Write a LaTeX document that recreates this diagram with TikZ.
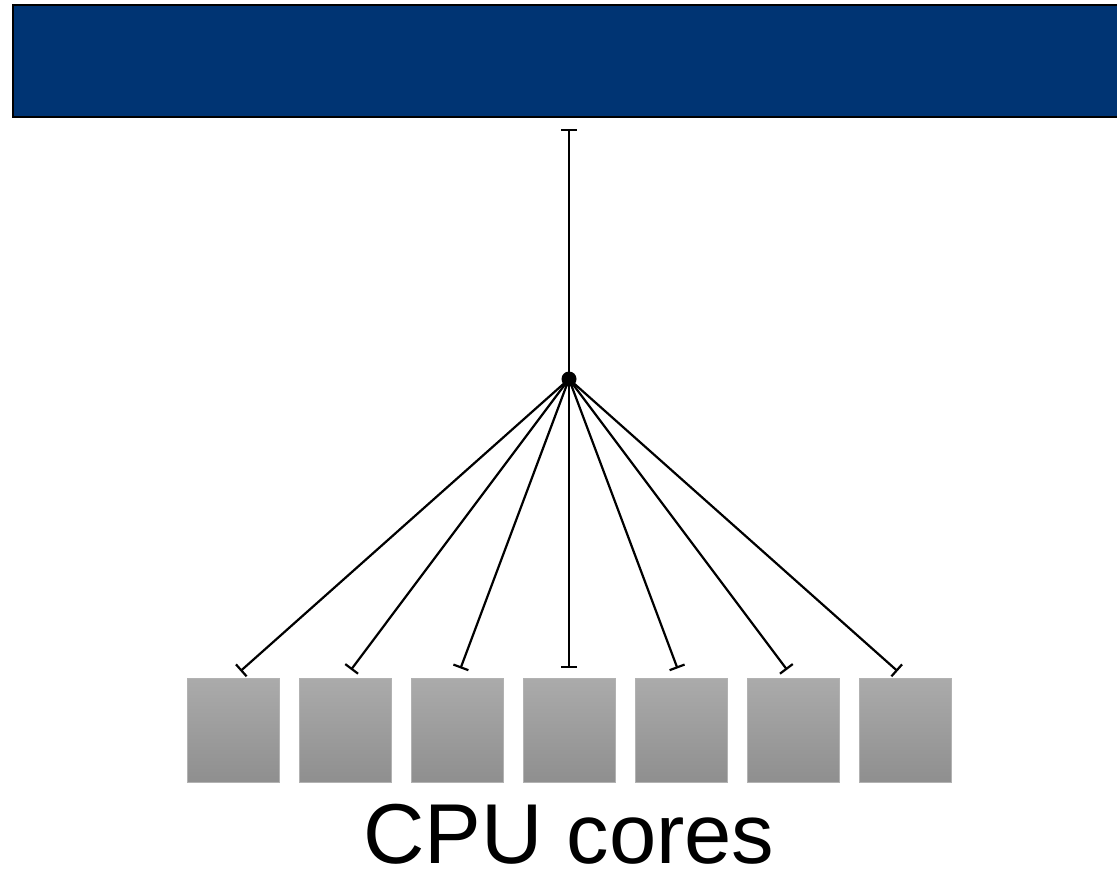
\documentclass[tikz,border=0pt]{standalone}
\usepackage{fontspec}
\setmainfont{Liberation Sans}
\usetikzlibrary{arrows.meta}
\definecolor{busblue}{RGB}{0,52,115}
\tikzset{
  corebox/.style={rectangle, minimum width=92pt, minimum height=104pt, inner sep=0pt,
    top color=black!33, bottom color=black!44, draw=black!30, line width=0.5pt},
  link/.style={line width=2.2pt, -{Bar[width=16pt,line width=2.2pt]}, shorten >=10pt},
}
\begin{document}
\begin{tikzpicture}[x=1pt,y=-1pt]
\useasboundingbox (0,0) rectangle (1117,879);
\node[rectangle, fill=busblue, draw=black, line width=2pt, anchor=north west,
  minimum width=1120pt, minimum height=112pt, inner sep=0pt] (bus) at (12,4) {};
\foreach \i in {1,...,7}{
  \node[corebox] (c\i) at ({233+112*(\i-1)},730) {};
}
\coordinate (hub) at (569,379);
\coordinate (top) at (569,129);
\draw[line width=2.2pt, -{Bar[width=16pt,line width=2.2pt]}] (hub) -- (top);
\foreach \i in {1,...,7}{
  \draw[link] (hub) -- (c\i.north);
}
\fill (hub) circle (7.5pt);
\node[font=\fontsize{85pt}{88pt}\selectfont, anchor=base, inner sep=0pt, text depth=0pt] (label) at (569,863) {CPU cores};
\end{tikzpicture}
\end{document}
